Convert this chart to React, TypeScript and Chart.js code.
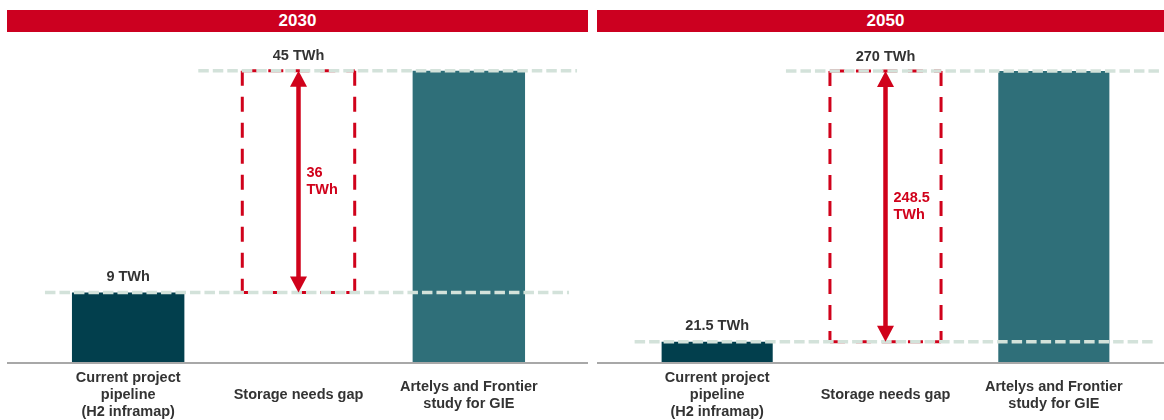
import React, { useEffect, useRef } from "react";
import { Chart, registerables } from "chart.js";

Chart.register(...registerables);

// ---- Data ----
const YEARS = ["2030", "2050"];
const CATEGORIES: (string | string[])[] = [
  ["Current project", "pipeline", "(H2 inframap)"],
  "Storage needs gap",
  ["Artelys and Frontier", "study for GIE"],
];
const PIPELINE_TWH = [9, 21.5];
const GAP_TWH = [36, 248.5];
const STUDY_TWH = [45, 270];
const UNIT = "TWh";
// value-axis ranges of each panel
const Y_MIN = [-2.3, 2.86];
const Y_MAX = [50, 298.46];

// ---- Styles ----
const RED = "#D0021B";
const HEADER_RED = "#CC0020";
const DARK = "#023F4D";
const TEAL = "#2F6F79";
const REF_LINE = "#D3E2DA";
const AXIS_LINE = "#A8A8A8";
const TEXT = "#333333";
const FONT = '"Liberation Sans", Arial, sans-serif';

const PANELS = [
  { left: 7, width: 581, padLeft: 36, padRight: 34 },
  { left: 597, width: 577, padLeft: 36, padRight: 36 },
];
const CANVAS_TOP = 32;
const CANVAS_H = 388;

function Panel({ idx }: { idx: number }) {
  const ref = useRef<HTMLCanvasElement>(null);
  const p = PANELS[idx];

  useEffect(() => {
    const pipeline = PIPELINE_TWH[idx];
    const gap = GAP_TWH[idx];
    const study = STUDY_TWH[idx];
    const yMin = Y_MIN[idx];
    const yMax = Y_MAX[idx];

    const overlay = {
      id: "overlay",
      afterDatasetsDraw(chart: any) {
        const ctx: CanvasRenderingContext2D = chart.ctx;
        const area = chart.chartArea;
        const meta = chart.getDatasetMeta(0);
        const [b1, g, b3] = meta.data as any[];
        const ys = chart.scales.y;
        const yTop = ys.getPixelForValue(pipeline + gap);
        const yLow = ys.getPixelForValue(pipeline);
        const yStudy = ys.getPixelForValue(study);
        const gl = g.x - g.width / 2;
        const gr = g.x + g.width / 2;

        ctx.save();
        // baseline across the whole panel
        ctx.strokeStyle = AXIS_LINE;
        ctx.lineWidth = 2;
        ctx.beginPath();
        ctx.moveTo(0, area.bottom + 1);
        ctx.lineTo(chart.width, area.bottom + 1);
        ctx.stroke();

        // red dashed gap box
        ctx.strokeStyle = RED;
        ctx.lineWidth = 3;
        ctx.setLineDash([15, 11]);
        const seg = (x1: number, y1: number, x2: number, y2: number) => {
          ctx.beginPath();
          ctx.moveTo(x1, y1);
          ctx.lineTo(x2, y2);
          ctx.stroke();
        };
        seg(gl, yTop, gl, yLow);
        seg(gr, yTop, gr, yLow);
        seg(gl, yTop, gr, yTop);
        seg(gl, yLow, gr, yLow);

        // grey dashed reference lines
        ctx.strokeStyle = REF_LINE;
        ctx.lineWidth = 3.5;
        ctx.setLineDash([10.5, 4]);
        seg(gl - 44, yStudy, b3.x + b3.width / 2 + 52, yStudy);
        seg(b1.x - b1.width / 2 - 27, yLow, b3.x + b3.width / 2 + 44, yLow);

        // double arrow
        ctx.setLineDash([]);
        const head = 16;
        const hw = 8.5;
        ctx.strokeStyle = RED;
        ctx.fillStyle = RED;
        ctx.lineWidth = 4.5;
        seg(g.x, yTop + head - 1, g.x, yLow - head + 1);
        ctx.beginPath();
        ctx.moveTo(g.x, yTop);
        ctx.lineTo(g.x - hw, yTop + head);
        ctx.lineTo(g.x + hw, yTop + head);
        ctx.closePath();
        ctx.fill();
        ctx.beginPath();
        ctx.moveTo(g.x, yLow);
        ctx.lineTo(g.x - hw, yLow - head);
        ctx.lineTo(g.x + hw, yLow - head);
        ctx.closePath();
        ctx.fill();

        // labels
        ctx.font = `bold 14.5px ${FONT}`;
        ctx.textBaseline = "middle";
        ctx.textAlign = "center";
        ctx.fillStyle = TEXT;
        ctx.fillText(`${study} ${UNIT}`, g.x, yStudy - 14.5);
        ctx.fillText(`${pipeline} ${UNIT}`, b1.x, yLow - 15.5);

        ctx.fillStyle = RED;
        ctx.textAlign = "left";
        const mid = (yTop + yLow) / 2;
        ctx.fillText(`${gap}`, g.x + 8, mid - 8.5);
        ctx.fillText(UNIT, g.x + 8, mid + 8.5);
        ctx.restore();
      },
    };

    const chart = new Chart(ref.current as HTMLCanvasElement, {
      type: "bar",
      data: {
        labels: CATEGORIES as any,
        datasets: [
          {
            data: [
              [yMin, pipeline],
              [pipeline, pipeline + gap],
              [yMin, study],
            ] as any,
            backgroundColor: [DARK, "rgba(0,0,0,0)", TEAL],
            borderWidth: 0,
            barPercentage: 0.66,
            categoryPercentage: 1,
          },
        ],
      },
      options: {
        responsive: false,
        animation: false,
        layout: { padding: { left: p.padLeft, right: p.padRight, top: 8, bottom: 0 } },
        plugins: { legend: { display: false }, tooltip: { enabled: false } },
        scales: {
          x: {
            grid: { display: false },
            border: { display: false },
            ticks: {
              color: TEXT,
              font: { family: FONT, size: 14.5, weight: "bold", lineHeight: "17px" } as any,
              padding: 8,
              crossAlign: "center",
              autoSkip: false,
              maxRotation: 0,
              minRotation: 0,
            },
            afterFit: (s: any) => {
              s.height = 58;
            },
          },
          y: { display: false, min: yMin, max: yMax },
        },
      },
      plugins: [overlay],
    });
    return () => chart.destroy();
  }, [idx]);

  return (
    <>
      <div
        style={{
          position: "absolute",
          left: p.left,
          top: 10,
          width: p.width,
          height: 22,
          background: HEADER_RED,
          color: "#fff",
          fontFamily: FONT,
          fontWeight: "bold",
          fontSize: 17,
          lineHeight: "22px",
          textAlign: "center",
        }}
      >
        {YEARS[idx]}
      </div>
      <canvas
        ref={ref}
        width={p.width}
        height={CANVAS_H}
        style={{ position: "absolute", left: p.left, top: CANVAS_TOP, width: p.width, height: CANVAS_H }}
      />
    </>
  );
}

export default function App() {
  return (
    <div
      style={{
        position: "absolute",
        left: 0,
        top: 0,
        width: 1164,
        height: 420,
        overflow: "hidden",
        background: "#fff",
      }}
    >
      <Panel idx={0} />
      <Panel idx={1} />
    </div>
  );
}
